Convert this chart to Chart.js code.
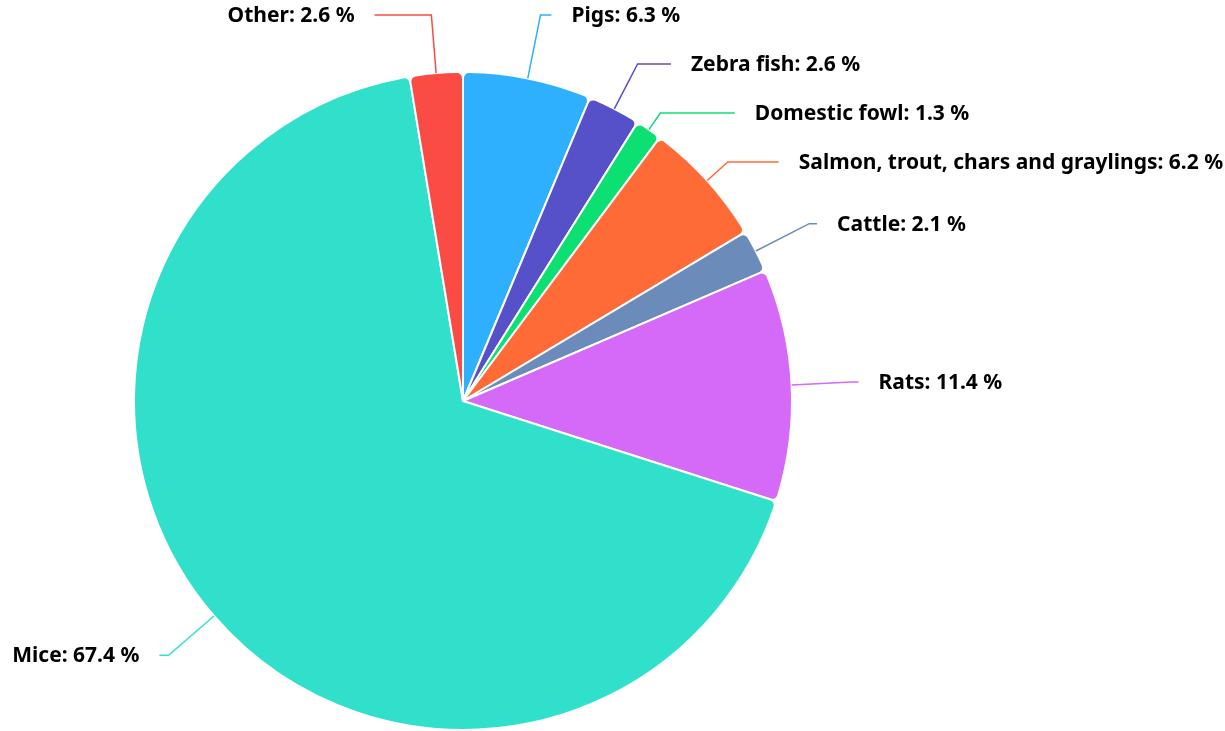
<!DOCTYPE html>
<html>
<head>
<meta charset="utf-8">
<script src="https://cdn.jsdelivr.net/npm/chart.js@4.4.1/dist/chart.umd.min.js"></script>
<style>
  html, body { margin: 0; padding: 0; background: #fff; }
  #wrap { width: 1225px; height: 731px; }
</style>
</head>
<body>
<div id="wrap"><canvas id="chart"></canvas></div>
<script>
// Share of animals used, by species (%)
const categories = ['Pigs', 'Zebra fish', 'Domestic fowl', 'Salmon, trout, chars and graylings', 'Cattle', 'Rats', 'Mice', 'Other'];
const shares = [6.3, 2.6, 1.3, 6.2, 2.1, 11.4, 67.4, 2.6];
const colors = ['#2fb0ff', '#5651c8', '#0ce073', '#ff6b37', '#6b8cba', '#d46af7', '#31e0cb', '#fa4b45'];

// draws outside labels with leader lines, spreads them so they don't overlap
const outsideLabels = {
  id: 'outsideLabels',
  afterDraw(chart) {
    const ctx = chart.ctx;
    const arcs = chart.getDatasetMeta(0).data;
    const gap = 49, top = 15, bottom = chart.height - 15;
    const items = arcs.map((arc, i) => {
      const mid = (arc.startAngle + arc.endAngle) / 2;
      const r = arc.outerRadius;
      return {
        i, mid, r, cx: arc.x, cy: arc.y,
        px: arc.x + Math.cos(mid) * r,
        py: arc.y + Math.sin(mid) * r,
        y: arc.y + Math.sin(mid) * (r + 60),
        right: Math.cos(mid) >= 0
      };
    });

    [true, false].forEach(side => {
      const list = items.filter(it => it.right === side).sort((a, b) => a.y - b.y);
      for (let k = 0; k < 60; k++) {
        for (let j = 1; j < list.length; j++) {
          const over = gap - (list[j].y - list[j - 1].y);
          if (over > 0) { list[j - 1].y -= over / 2; list[j].y += over / 2; }
        }
      }
      for (let j = 0; j < list.length; j++) {
        const min = j === 0 ? top : list[j - 1].y + gap;
        if (list[j].y < min) list[j].y = min;
      }
      for (let j = list.length - 1; j >= 0; j--) {
        const max = j === list.length - 1 ? bottom : list[j + 1].y - gap;
        if (list[j].y > max) list[j].y = max;
      }
    });

    ctx.save();
    ctx.font = 'bold 21px "Noto Sans"';
    ctx.textBaseline = 'middle';
    items.forEach(it => {
      const R = it.r + 67;
      const dy = it.y - it.cy;
      const ax = it.cx + (it.right ? 1 : -1) * Math.sqrt(Math.max(R * R - dy * dy, 0));
      const s = Math.sin(it.mid);
      let t = Math.abs(s) > 1e-3 ? (it.y - it.py) / s : 0;
      if (t < 0) t = 0;
      let bx = it.px + Math.cos(it.mid) * t;
      bx = it.right ? Math.min(bx, ax) : Math.max(bx, ax);

      ctx.strokeStyle = colors[it.i];
      ctx.lineWidth = 1.5;
      ctx.beginPath();
      ctx.moveTo(it.px, it.py);
      ctx.lineTo(bx, it.y);
      ctx.lineTo(ax, it.y);
      ctx.stroke();

      ctx.fillStyle = '#000';
      ctx.textAlign = it.right ? 'left' : 'right';
      ctx.fillText(categories[it.i] + ': ' + shares[it.i] + ' %', ax + (it.right ? 20 : -20), it.y + 1);
    });
    ctx.restore();
  }
};

new Chart(document.getElementById('chart'), {
  type: 'pie',
  data: {
    labels: categories,
    datasets: [{
      data: shares,
      backgroundColor: colors,
      borderColor: '#fff',
      borderWidth: 2,
      borderRadius: 6
    }]
  },
  options: {
    responsive: true,
    maintainAspectRatio: false,
    animation: false,
    layout: { padding: { top: 71, bottom: -5, left: 131, right: 430 } },
    plugins: {
      legend: { display: false },
      tooltip: { enabled: false }
    }
  },
  plugins: [outsideLabels]
});
</script>
</body>
</html>
